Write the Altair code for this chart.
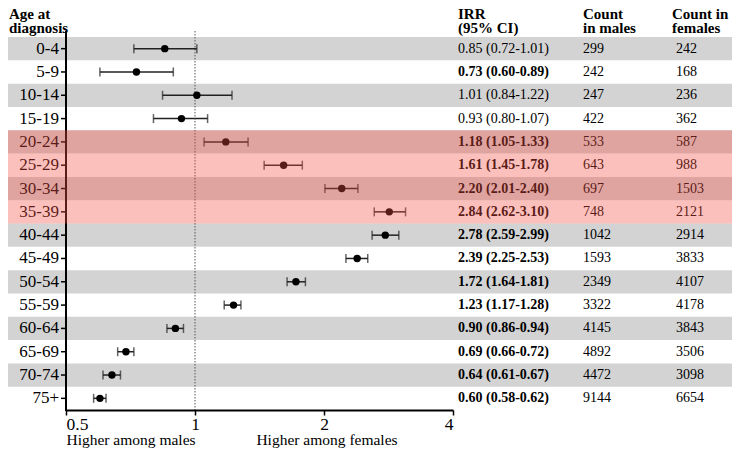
import altair as alt
import pandas as pd

ages = ["0-4", "5-9", "10-14", "15-19", "20-24", "25-29", "30-34", "35-39",
        "40-44", "45-49", "50-54", "55-59", "60-64", "65-69", "70-74", "75+"]
irr = [0.85, 0.73, 1.01, 0.93, 1.18, 1.61, 2.20, 2.84, 2.78, 2.39, 1.72, 1.23, 0.90, 0.69, 0.64, 0.60]
ci_lo = [0.72, 0.60, 0.84, 0.80, 1.05, 1.45, 2.01, 2.62, 2.59, 2.25, 1.64, 1.17, 0.86, 0.66, 0.61, 0.58]
ci_hi = [1.01, 0.89, 1.22, 1.07, 1.33, 1.78, 2.40, 3.10, 2.99, 2.53, 1.81, 1.28, 0.94, 0.72, 0.67, 0.62]
males = [299, 242, 247, 422, 533, 643, 697, 748, 1042, 1593, 2349, 3322, 4145, 4892, 4472, 9144]
females = [242, 168, 236, 362, 587, 988, 1503, 2121, 2914, 3833, 4107, 4178, 3843, 3506, 3098, 6654]
highlighted = ["20-24", "25-29", "30-34", "35-39"]
x_ticks = [0.5, 1, 2, 4]

rows = []
for i, a in enumerate(ages):
    rows.append({
        "age": a,
        "irr": irr[i], "lo": ci_lo[i], "hi": ci_hi[i],
        "males": str(males[i]), "females": str(females[i]),
        "label": f"{irr[i]:.2f} ({ci_lo[i]:.2f}-{ci_hi[i]:.2f})",
        "bold": not (ci_lo[i] <= 1 <= ci_hi[i]),
        "gray": i % 2 == 0,
        "pink": a in highlighted,
    })
df = pd.DataFrame(rows)

FONT = "Liberation Serif"
H = 373
yscale = alt.Scale(domain=ages, paddingInner=0, paddingOuter=0)
Y = alt.Y("age:N", sort=ages, scale=yscale, axis=None)
xscale = alt.Scale(type="log", domain=[0.5, 4], nice=False)

base = alt.Chart(df)

gray = base.transform_filter("datum.gray").mark_rect(color="#d3d3d3").encode(
    y=Y, x=alt.value(-58), x2=alt.value(666))

ref = alt.Chart(pd.DataFrame({"v": [1]})).mark_rule(
    color="#555555", strokeWidth=1, strokeDash=[1.5, 1.5]).encode(
    x=alt.X("v:Q", scale=xscale), y=alt.value(-6), y2=alt.value(H))

yline = alt.Chart(pd.DataFrame({"v": [0]})).mark_rule(color="black", strokeWidth=2).encode(
    x=alt.value(0), y=alt.value(-6), y2=alt.value(H + 1))

yticks = base.mark_rule(color="black", strokeWidth=1.5).encode(
    y=Y, x=alt.value(-5), x2=alt.value(0))

ylabels = base.mark_text(font=FONT, fontSize=17, align="right", baseline="middle", color="black").encode(
    y=Y, x=alt.value(-7), text="age:N")

bars = base.mark_rule(color="#222222", strokeWidth=1.5).encode(
    y=Y,
    x=alt.X("lo:Q", scale=xscale,
            axis=alt.Axis(values=x_ticks, labelExpr="'' + datum.value", title=None,
                          domain=True, domainColor="black", domainWidth=2,
                          tickColor="black", tickWidth=1.5, tickSize=5,
                          labelFont=FONT, labelFontSize=17.5, labelColor="black",
                          labelPadding=0, grid=False, zindex=1)),
    x2="hi:Q")

caps_lo = base.mark_tick(color="#222222", thickness=1.5, size=9).encode(
    y=Y, x=alt.X("lo:Q", scale=xscale))
caps_hi = base.mark_tick(color="#222222", thickness=1.5, size=9).encode(
    y=Y, x=alt.X("hi:Q", scale=xscale))

points = base.mark_circle(color="black", opacity=1, size=55).encode(
    y=Y, x=alt.X("irr:Q", scale=xscale))

irr_bold = base.transform_filter("datum.bold").mark_text(
    font=FONT, fontSize=14, fontWeight="bold", align="left", baseline="middle", color="black").encode(
    y=Y, x=alt.value(392), text="label:N")
irr_norm = base.transform_filter("!datum.bold").mark_text(
    font=FONT, fontSize=14, align="left", baseline="middle", color="black").encode(
    y=Y, x=alt.value(392), text="label:N")
male_txt = base.mark_text(font=FONT, fontSize=14, align="left", baseline="middle", color="black").encode(
    y=Y, x=alt.value(517), text="males:N")
female_txt = base.mark_text(font=FONT, fontSize=14, align="left", baseline="middle", color="black").encode(
    y=Y, x=alt.value(610), text="females:N")


def header(txt, xpx):
    return alt.Chart(pd.DataFrame({"t": [txt]})).mark_text(
        font=FONT, fontSize=15, fontWeight="bold", align="left", baseline="alphabetic",
        lineBreak="\n", lineHeight=13.5, color="black").encode(
        x=alt.value(xpx), y=alt.value(-18), text="t:N")


h_age = header("Age at\ndiagnosis", -57)
h_irr = header("IRR\n(95% CI)", 392)
h_m = header("Count\nin males", 517)
h_f = header("Count in\nfemales", 606)


def xnote(txt, xpx):
    return alt.Chart(pd.DataFrame({"t": [txt]})).mark_text(
        font=FONT, fontSize=15.5, align="center", baseline="alphabetic", color="black").encode(
        x=alt.value(xpx), y=alt.value(408), text="t:N")


note_m = xnote("Higher among males", 65)
note_f = xnote("Higher among females", 261)

pink = base.transform_filter("datum.pink").mark_rect(color="#f75045", opacity=0.36).encode(
    y=Y, x=alt.value(-58), x2=alt.value(666))

chart = alt.layer(
    gray, ref, bars, caps_lo, caps_hi, points, yline, yticks, ylabels,
    irr_bold, irr_norm, male_txt, female_txt,
    h_age, h_irr, h_m, h_f, note_m, note_f, pink
).properties(
    width=387, height=H,
    autosize=alt.AutoSizeParams(type="none"),
    padding={"left": 58, "top": 29, "right": 279, "bottom": 440 - 29 - H},
).configure_view(stroke=None)

chart.save("out.html", embed_options={"renderer": "svg", "actions": False})
